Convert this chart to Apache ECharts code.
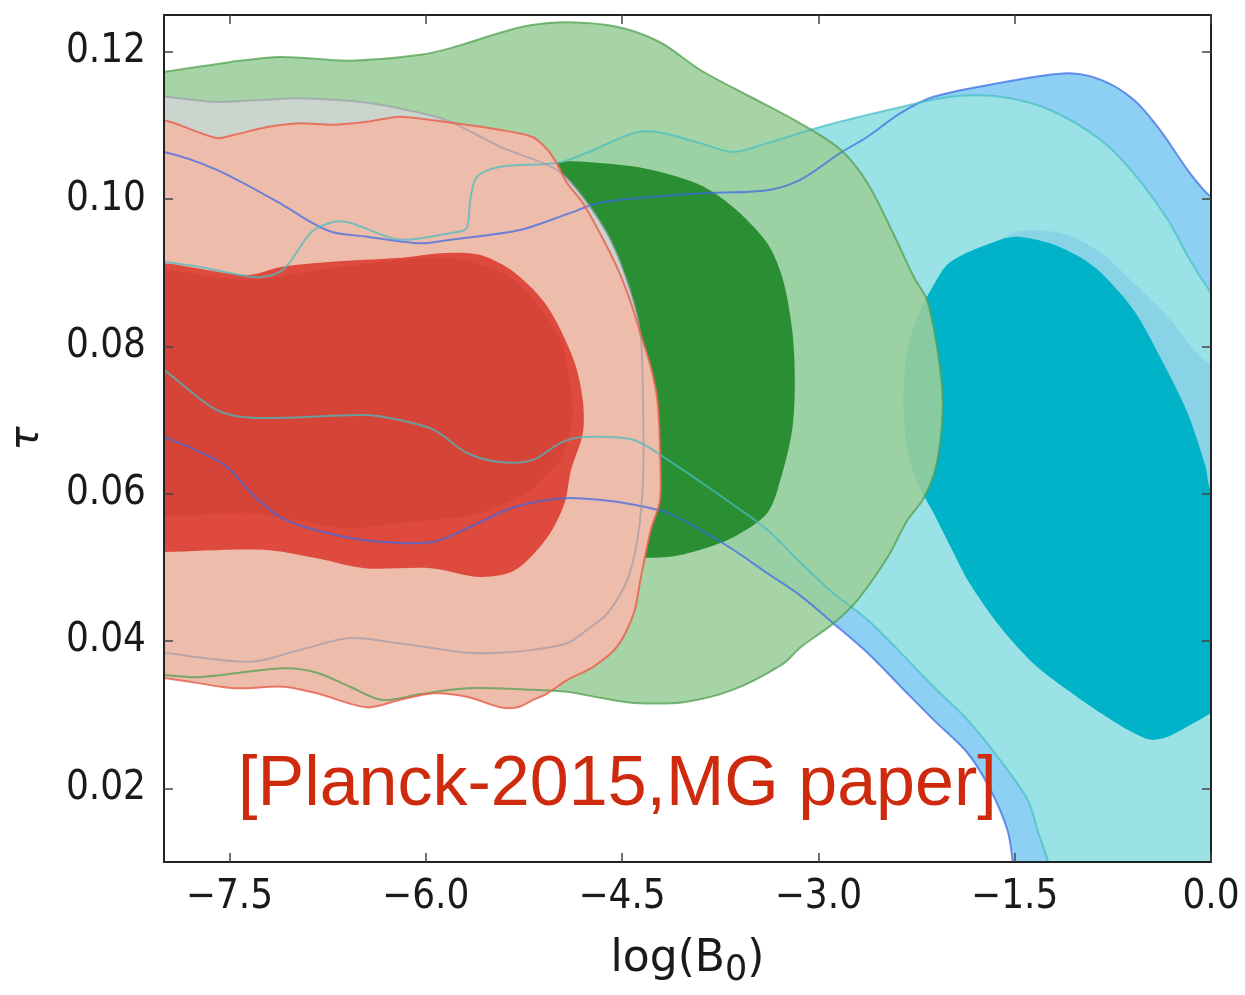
<!DOCTYPE html>
<html>
<head>
<meta charset="utf-8">
<script src="https://cdn.jsdelivr.net/npm/echarts@6/dist/echarts.min.js"></script>
<style>
  html, body { margin: 0; padding: 0; background: #ffffff; }
  #chart { width: 1245px; height: 995px; }
</style>
</head>
<body>
<div id="chart"></div>
<script>
// Tick positions of the two axes
const xTicks = [-7.5, -6.0, -4.5, -3.0, -1.5, 0.0];
const yTicks = [0.02, 0.04, 0.06, 0.08, 0.10, 0.12];

// Confidence-region outlines in (log B0, tau). Points past the axis range
// just close a region outside the visible frame.
const blue95 = [
  [-8.3, 0.1068], [-8.0, 0.1064], [-7.6, 0.1040], [-7.09, 0.0992], [-6.88, 0.0969], [-6.71, 0.0955],
  [-6.45, 0.0949], [-6.04, 0.0940], [-5.81, 0.0945], [-5.28, 0.0958], [-4.90, 0.0981], [-4.67, 0.0995],
  [-4.28, 0.1003], [-3.90, 0.1008], [-3.39, 0.1012], [-3.14, 0.1026], [-2.83, 0.1063], [-2.63, 0.1084],
  [-2.37, 0.1117], [-2.12, 0.1139], [-1.61, 0.1158], [-1.10, 0.1171], [-0.84, 0.1162], [-0.59, 0.1135],
  [-0.39, 0.1094], [-0.16, 0.1035], [0.0, 0.1003], [0.3, 0.097], [0.3, 0.0], [-1.47, 0.0],
  [-1.49, 0.005], [-1.515, 0.0100], [-1.555, 0.0143], [-1.685, 0.0198], [-1.86, 0.0248], [-2.12, 0.0293],
  [-2.37, 0.0338], [-2.625, 0.0384], [-2.885, 0.0424], [-3.14, 0.0462], [-3.39, 0.0492], [-3.65, 0.0524],
  [-3.90, 0.0551], [-4.15, 0.0574], [-4.41, 0.0585], [-4.64, 0.0591], [-4.94, 0.0594], [-5.32, 0.0582],
  [-5.71, 0.0551], [-5.96, 0.0534], [-6.47, 0.0537], [-6.85, 0.0551], [-7.11, 0.0568], [-7.335, 0.0601],
  [-7.49, 0.0632], [-7.60, 0.0646], [-8.0, 0.0677], [-8.3, 0.0690]
];
const blue68 = [
  [-1.84, 0.0911], [-1.51, 0.0954], [-1.15, 0.0954], [-0.84, 0.0927], [-0.59, 0.0886], [-0.33, 0.0840],
  [-0.13, 0.0795], [0.0, 0.0775], [0.3, 0.074], [0.3, 0.040], [0.0, 0.0401], [-0.46, 0.0333],
  [-0.84, 0.0347], [-1.36, 0.0415], [-1.685, 0.0476], [-1.91, 0.0551], [-2.03, 0.0632], [-2.07, 0.0727],
  [-2.01, 0.0836]
];
const cyan95 = [
  [-8.3, 0.0925], [-8.0, 0.0915], [-7.725, 0.0908], [-7.29, 0.0894], [-7.09, 0.0904], [-6.88, 0.0954],
  [-6.71, 0.0969], [-6.58, 0.0968], [-6.20, 0.0945], [-5.81, 0.0954], [-5.69, 0.0960], [-5.66, 0.0999],
  [-5.61, 0.1030], [-5.43, 0.1044], [-5.00, 0.1049], [-4.77, 0.1063], [-4.41, 0.1090], [-4.23, 0.1091],
  [-3.90, 0.1076], [-3.65, 0.1064], [-3.39, 0.1076], [-2.985, 0.1098], [-2.37, 0.1125], [-1.99, 0.1139],
  [-1.61, 0.1139], [-1.23, 0.1121], [-0.84, 0.1080], [-0.59, 0.1035], [-0.33, 0.0972], [-0.16, 0.0917],
  [0.0, 0.0873], [0.3, 0.080], [0.3, 0.0], [-1.17, 0.0], [-1.20, 0.005], [-1.245, 0.0100],
  [-1.32, 0.0140], [-1.40, 0.0184], [-1.61, 0.0238], [-1.86, 0.0293], [-2.12, 0.0338], [-2.37, 0.0384],
  [-2.625, 0.0429], [-2.885, 0.0465], [-3.14, 0.0507], [-3.39, 0.0551], [-3.65, 0.0585], [-3.90, 0.0616],
  [-4.15, 0.0646], [-4.41, 0.0673], [-4.80, 0.0677], [-4.97, 0.0669], [-5.18, 0.0646], [-5.43, 0.0643],
  [-5.68, 0.0655], [-5.94, 0.0687], [-6.20, 0.0700], [-6.45, 0.0707], [-7.29, 0.0703], [-7.60, 0.0714],
  [-8.0, 0.0768], [-8.3, 0.0800]
];
const cyan68 = [
  [-2.35, 0.0727], [-2.32, 0.0795], [-2.235, 0.0843], [-2.14, 0.0877], [-1.99, 0.0915], [-1.61, 0.0945],
  [-1.48, 0.0949], [-1.23, 0.0940], [-1.00, 0.0921], [-0.84, 0.0900], [-0.59, 0.0849], [-0.39, 0.0786],
  [-0.18, 0.0710], [-0.04, 0.0636], [0.0, 0.0605], [0.3, 0.055], [0.3, 0.033], [0.0, 0.0302],
  [-0.16, 0.0286], [-0.33, 0.0270], [-0.46, 0.0266], [-0.59, 0.0275], [-0.84, 0.0302], [-1.10, 0.0334],
  [-1.36, 0.0370], [-1.61, 0.0419], [-1.86, 0.0483], [-1.99, 0.0528], [-2.12, 0.0574], [-2.235, 0.0612],
  [-2.32, 0.0659]
];
const green95 = [
  [-8.3, 0.1170], [-8.0, 0.1173], [-7.50, 0.1186], [-7.11, 0.1193], [-6.58, 0.1188], [-6.04, 0.1196],
  [-5.81, 0.1205], [-5.43, 0.1226], [-5.20, 0.1236], [-4.92, 0.1240], [-4.54, 0.1234], [-4.21, 0.1213],
  [-3.90, 0.1175], [-3.52, 0.1139], [-3.14, 0.1103], [-2.83, 0.1067], [-2.625, 0.1022], [-2.43, 0.0954],
  [-2.27, 0.0894], [-2.17, 0.0863], [-2.09, 0.0795], [-2.05, 0.0727], [-2.07, 0.0669], [-2.12, 0.0625],
  [-2.205, 0.0591], [-2.32, 0.0564], [-2.47, 0.0514], [-2.70, 0.0456], [-2.885, 0.0424], [-3.14, 0.0391],
  [-3.27, 0.0369], [-3.65, 0.0334], [-4.03, 0.0317], [-4.41, 0.0316], [-4.67, 0.0323], [-4.92, 0.0331],
  [-5.18, 0.0334], [-5.68, 0.0336], [-6.04, 0.0328], [-6.33, 0.0320], [-6.58, 0.0338], [-6.83, 0.0357],
  [-7.09, 0.0363], [-7.725, 0.0351], [-8.0, 0.0354], [-8.3, 0.0356]
];
const green68 = [
  [-5.00, 0.1049], [-4.67, 0.1049], [-4.28, 0.1040], [-3.90, 0.1019], [-3.65, 0.0989], [-3.39, 0.0940],
  [-3.27, 0.0890], [-3.20, 0.0822], [-3.18, 0.0754], [-3.20, 0.0687], [-3.29, 0.0619], [-3.39, 0.0574],
  [-3.65, 0.0541], [-3.90, 0.0524], [-4.15, 0.0514], [-4.44, 0.0514], [-4.67, 0.0521], [-4.97, 0.0564],
  [-5.125, 0.0659], [-5.20, 0.0795], [-5.20, 0.0931], [-5.09, 0.1026]
];
const grey95 = [
  [-8.3, 0.1140], [-8.0, 0.1139], [-7.60, 0.1132], [-7.21, 0.1135], [-6.96, 0.1137], [-6.45, 0.1131],
  [-6.04, 0.1117], [-5.81, 0.1105], [-5.43, 0.1071], [-5.00, 0.1040], [-4.80, 0.1003], [-4.59, 0.0945],
  [-4.44, 0.0877], [-4.36, 0.0818], [-4.34, 0.0727], [-4.34, 0.0619], [-4.38, 0.0541], [-4.46, 0.0483],
  [-4.61, 0.0438], [-4.77, 0.0415], [-4.92, 0.0397], [-5.18, 0.0388], [-5.43, 0.0384], [-5.68, 0.0384],
  [-6.20, 0.0397], [-6.58, 0.0404], [-6.96, 0.0388], [-7.34, 0.0372], [-8.0, 0.0384], [-8.3, 0.0390]
];
const red95 = [
  [-8.3, 0.1110], [-8.0, 0.1107], [-7.60, 0.1083], [-7.47, 0.1087], [-7.21, 0.1098], [-6.96, 0.1103],
  [-6.71, 0.1101], [-6.45, 0.1105], [-6.20, 0.1112], [-5.94, 0.1107], [-5.43, 0.1094], [-5.18, 0.1084],
  [-5.07, 0.1067], [-5.00, 0.1049], [-4.92, 0.1022], [-4.80, 0.0995], [-4.67, 0.0954], [-4.54, 0.0908],
  [-4.44, 0.0863], [-4.36, 0.0818], [-4.28, 0.0772], [-4.23, 0.0727], [-4.21, 0.0659], [-4.21, 0.0591],
  [-4.28, 0.0551], [-4.36, 0.0483], [-4.41, 0.0438], [-4.54, 0.0392], [-4.72, 0.0365], [-4.92, 0.0347],
  [-5.07, 0.0329], [-5.18, 0.0320], [-5.30, 0.0310], [-5.43, 0.0310], [-5.68, 0.0324], [-5.94, 0.0329],
  [-6.20, 0.0320], [-6.45, 0.0310], [-6.83, 0.0329], [-7.09, 0.0338], [-7.47, 0.0336], [-8.0, 0.0350],
  [-8.3, 0.0352]
];
const red68 = [
  [-8.3, 0.0912], [-8.0, 0.0913], [-7.37, 0.0897], [-7.105, 0.0908], [-6.72, 0.0915], [-6.22, 0.0920],
  [-5.84, 0.0927], [-5.58, 0.0924], [-5.32, 0.0900], [-5.07, 0.0854], [-4.87, 0.0782], [-4.80, 0.0727],
  [-4.80, 0.0682], [-4.89, 0.0632], [-4.94, 0.0587], [-5.07, 0.0541], [-5.32, 0.0496], [-5.58, 0.0487],
  [-5.96, 0.0499], [-6.47, 0.0499], [-6.85, 0.0513], [-7.24, 0.0524], [-8.0, 0.0521], [-8.3, 0.0520]
];
const red68Core = [
  [-8.3, 0.0905], [-8.0, 0.0904], [-7.34, 0.0890], [-6.73, 0.0906], [-5.81, 0.0920], [-5.35, 0.0893],
  [-5.125, 0.0852], [-4.97, 0.0809], [-4.90, 0.0754], [-4.88, 0.0700], [-4.97, 0.0646], [-5.12, 0.0619],
  [-5.19, 0.0605], [-5.58, 0.0574], [-5.96, 0.0564], [-6.22, 0.0560], [-6.60, 0.0553], [-6.98, 0.0564],
  [-7.37, 0.0574], [-8.0, 0.0568], [-8.3, 0.0568]
];

const annotation = '[Planck-2015,MG paper]';

const tickFont = "'DejaVu Sans Condensed', 'DejaVu Sans', sans-serif";

function signed(v, digits) {
  const s = Math.abs(v).toFixed(digits);
  return v < 0 ? '\u2212' + s : s;
}

// One closed, smoothed region drawn through the cartesian axes.
function region(pts, style, z) {
  return {
    type: 'custom',
    coordinateSystem: 'cartesian2d',
    silent: true,
    z: z,
    data: [pts[0]],
    renderItem: function (params, api) {
      const cs = params.coordSys;
      return {
        type: 'polygon',
        shape: { points: pts.map(function (p) { return api.coord(p); }), smooth: 0.3 },
        style: style,
        clipPath: { type: 'rect', shape: { x: cs.x, y: cs.y, width: cs.width, height: cs.height } }
      };
    }
  };
}

const fills = [
  [blue95, '#8dd0f3'],
  [cyan95, '#9be2e6'],
  [blue68, '#88d3e6'],
  [cyan68, '#00b3c9'],
  [green95, 'rgba(155,206,154,0.88)'],
  [green68, '#2a8f33'],
  [grey95, '#cbd5ce'],
  [red95, '#eebcab'],
  [red68, '#de4b3e'],
  [red68Core, '#d54436']
];
const outlines = [
  [blue95, 'rgba(60,105,230,0.72)'],
  [cyan95, 'rgba(70,190,195,0.72)'],
  [green95, 'rgba(80,160,80,0.75)'],
  [grey95, 'rgba(150,150,168,0.6)'],
  [red95, 'rgba(232,100,80,0.85)']
];

const series = [];
fills.forEach(function (f) {
  series.push(region(f[0], { fill: f[1], stroke: null }, 2));
});
outlines.forEach(function (o) {
  series.push(region(o[0], { fill: 'none', stroke: o[1], lineWidth: 2 }, 3));
});

const frameLine = { show: true, onZero: false, lineStyle: { color: '#222222', width: 2 } };
const tickStyle = { color: '#444', width: 1.5 };

const chart = echarts.init(document.getElementById('chart'), null, { renderer: 'canvas' });
chart.setOption({
  animation: false,
  backgroundColor: '#ffffff',
  grid: { left: 164, top: 15, right: 34, bottom: 133, containLabel: false },
  xAxis: [{
    type: 'value', min: -8, max: 0, position: 'bottom', z: 10,
    axisLine: frameLine,
    axisTick: { show: true, inside: true, length: 9, customValues: xTicks, lineStyle: tickStyle },
    axisLabel: {
      customValues: xTicks, margin: 16, fontSize: 40, fontFamily: tickFont, color: '#1a1a1a',
      formatter: function (v) { return signed(v, 1); }
    },
    splitLine: { show: false },
    name: '{a|log(B}{s|0}{a|)}',
    nameLocation: 'middle',
    nameGap: 70,
    nameTextStyle: {
      rich: {
        a: { fontSize: 44, fontFamily: "'DejaVu Sans', sans-serif", color: '#1a1a1a', lineHeight: 56 },
        s: { fontSize: 35, fontFamily: "'DejaVu Sans', sans-serif", color: '#1a1a1a', lineHeight: 36, verticalAlign: 'bottom' }
      }
    }
  }, {
    type: 'value', min: -8, max: 0, position: 'top', z: 10,
    axisLine: frameLine,
    axisTick: { show: true, inside: true, length: 9, customValues: xTicks, lineStyle: tickStyle },
    axisLabel: { show: false },
    splitLine: { show: false }
  }],
  yAxis: [{
    type: 'value', min: 0.01, max: 0.125, position: 'left', z: 10,
    axisLine: frameLine,
    axisTick: { show: true, inside: true, length: 9, customValues: yTicks, lineStyle: tickStyle },
    axisLabel: {
      customValues: yTicks, margin: 18, fontSize: 40, fontFamily: tickFont, color: '#1a1a1a',
      formatter: function (v) { return v.toFixed(2); }
    },
    splitLine: { show: false },
    name: '\u03c4',
    nameLocation: 'middle',
    nameRotate: 90,
    nameGap: 116,
    nameTextStyle: { fontSize: 40, fontStyle: 'italic', fontFamily: "'DejaVu Sans', sans-serif", color: '#1a1a1a' }
  }, {
    type: 'value', min: 0.01, max: 0.125, position: 'right', z: 10,
    axisLine: frameLine,
    axisTick: { show: true, inside: true, length: 9, customValues: yTicks, lineStyle: tickStyle },
    axisLabel: { show: false },
    splitLine: { show: false }
  }],
  graphic: [{
    type: 'text',
    x: 238, y: 786, z: 20,
    style: {
      text: annotation,
      fill: '#cd2a0e',
      font: "70px 'Liberation Sans', Arial, sans-serif",
      align: 'left',
      verticalAlign: 'middle'
    }
  }],
  series: series
});
</script>
</body>
</html>
